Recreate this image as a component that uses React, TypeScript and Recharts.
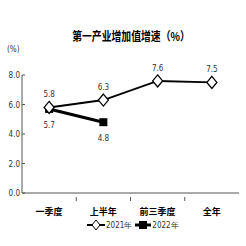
import { LineChart, Line, XAxis, YAxis, LabelList } from "recharts";

const categories = ["一季度", "上半年", "前三季度", "全年"];
const series2021 = [5.8, 6.3, 7.6, 7.5];
const series2022: (number | null)[] = [5.7, 4.8, null, null];
const yTicks = [0, 2, 4, 6, 8];

const chartData = categories.map((name, i) => ({
  x: i + 0.5,
  name,
  y2021: series2021[i],
  y2022: series2022[i],
}));

const xTicks = [0.5, 1, 1.5, 2, 2.5, 3, 3.5];
const numFont = "'DejaVu Sans Condensed', 'DejaVu Sans', sans-serif";
const cjkFont = "'Noto Sans CJK SC', sans-serif";

const Diamond = ({ cx, cy }: any) => {
  if (cx == null || cy == null) return null;
  return (
    <path
      d={`M${cx},${cy - 6} L${cx + 5},${cy} L${cx},${cy + 6} L${cx - 5},${cy} Z`}
      fill="#fff"
      stroke="#000"
      strokeWidth={1.3}
    />
  );
};

const Square = ({ cx, cy }: any) => {
  if (cx == null || cy == null) return null;
  return <rect x={cx - 4} y={cy - 4} width={8} height={8} fill="#000" />;
};

const XTick = ({ x, y, payload }: any) => {
  const v = payload.value;
  if (Number.isInteger(v)) {
    return <line x1={x} x2={x} y1={y} y2={y - 4} stroke="#555" />;
  }
  return (
    <text
      x={x}
      y={y + 14}
      textAnchor="middle"
      fontSize={9}
      fontWeight="bold"
      fontFamily={cjkFont}
      fill="#000"
    >
      {categories[Math.floor(v)]}
    </text>
  );
};

const YTick = ({ x, y, payload }: any) => (
  <g>
    <text
      x={x - 2}
      y={y + 3}
      textAnchor="end"
      fontSize={8}
      fontFamily={numFont}
      fill="#333"
    >
      {payload.value.toFixed(1)}
    </text>
    <line x1={x} x2={x + 3} y1={y} y2={y} stroke="#555" />
  </g>
);

export default function App() {
  return (
    <div
      style={{
        position: "absolute",
        left: 0,
        top: 0,
        width: 246,
        height: 246,
        background: "#fff",
      }}
    >
      <div
        style={{
          position: "absolute",
          top: 27,
          left: 0,
          width: 262,
          textAlign: "center",
          fontFamily: cjkFont,
          fontWeight: "bold",
          fontSize: 12,
          transform: "scaleX(0.82)",
        }}
      >
        第一产业增加值增速（%）
      </div>
      <div
        style={{
          position: "absolute",
          top: 45,
          left: 7,
          fontFamily: numFont,
          fontSize: 8,
          color: "#333",
        }}
      >
        (%)
      </div>
      <LineChart
        width={246}
        height={246}
        data={chartData}
        margin={{ top: 75, right: 7, bottom: 23, left: 0 }}
      >
        <XAxis
          dataKey="x"
          type="number"
          domain={[0, 4]}
          ticks={xTicks}
          interval={0}
          height={30}
          tickLine={false}
          tick={<XTick />}
          stroke="#555"
        />
        <YAxis
          width={22}
          domain={[0, 8]}
          ticks={yTicks}
          interval={0}
          tickLine={false}
          tickSize={0}
          tickMargin={0}
          tick={<YTick />}
          stroke="#555"
        />
        <Line
          dataKey="y2022"
          stroke="#000"
          strokeWidth={3}
          dot={<Square />}
          isAnimationActive={false}
        >
          <LabelList
            dataKey="y2022"
            position="bottom"
            offset={13}
            fontSize={8}
            fontFamily={numFont}
            fill="#333"
            formatter={(v: any) => (v == null ? "" : Number(v).toFixed(1))}
          />
        </Line>
        <Line
          dataKey="y2021"
          stroke="#000"
          strokeWidth={2}
          dot={<Diamond />}
          isAnimationActive={false}
        >
          <LabelList
            dataKey="y2021"
            position="top"
            offset={10}
            fontSize={8}
            fontFamily={numFont}
            fill="#333"
            formatter={(v: any) => Number(v).toFixed(1)}
          />
        </Line>
      </LineChart>
      <div
        style={{
          position: "absolute",
          top: 219,
          left: 86,
          display: "flex",
          alignItems: "center",
          fontFamily: numFont,
          fontSize: 8,
          color: "#333",
        }}
      >
        <svg width={20} height={12}>
          <line x1={1} x2={19} y1={6} y2={6} stroke="#000" strokeWidth={2} />
          <path d="M10,1 L14,6 L10,11 L6,6 Z" fill="#fff" stroke="#000" />
        </svg>
        <span style={{ marginRight: 2 }}>2021年</span>
        <svg width={18} height={12}>
          <line x1={1} x2={17} y1={6} y2={6} stroke="#000" strokeWidth={3} />
          <rect x={5} y={2} width={8} height={8} fill="#000" />
        </svg>
        <span>2022年</span>
      </div>
    </div>
  );
}
